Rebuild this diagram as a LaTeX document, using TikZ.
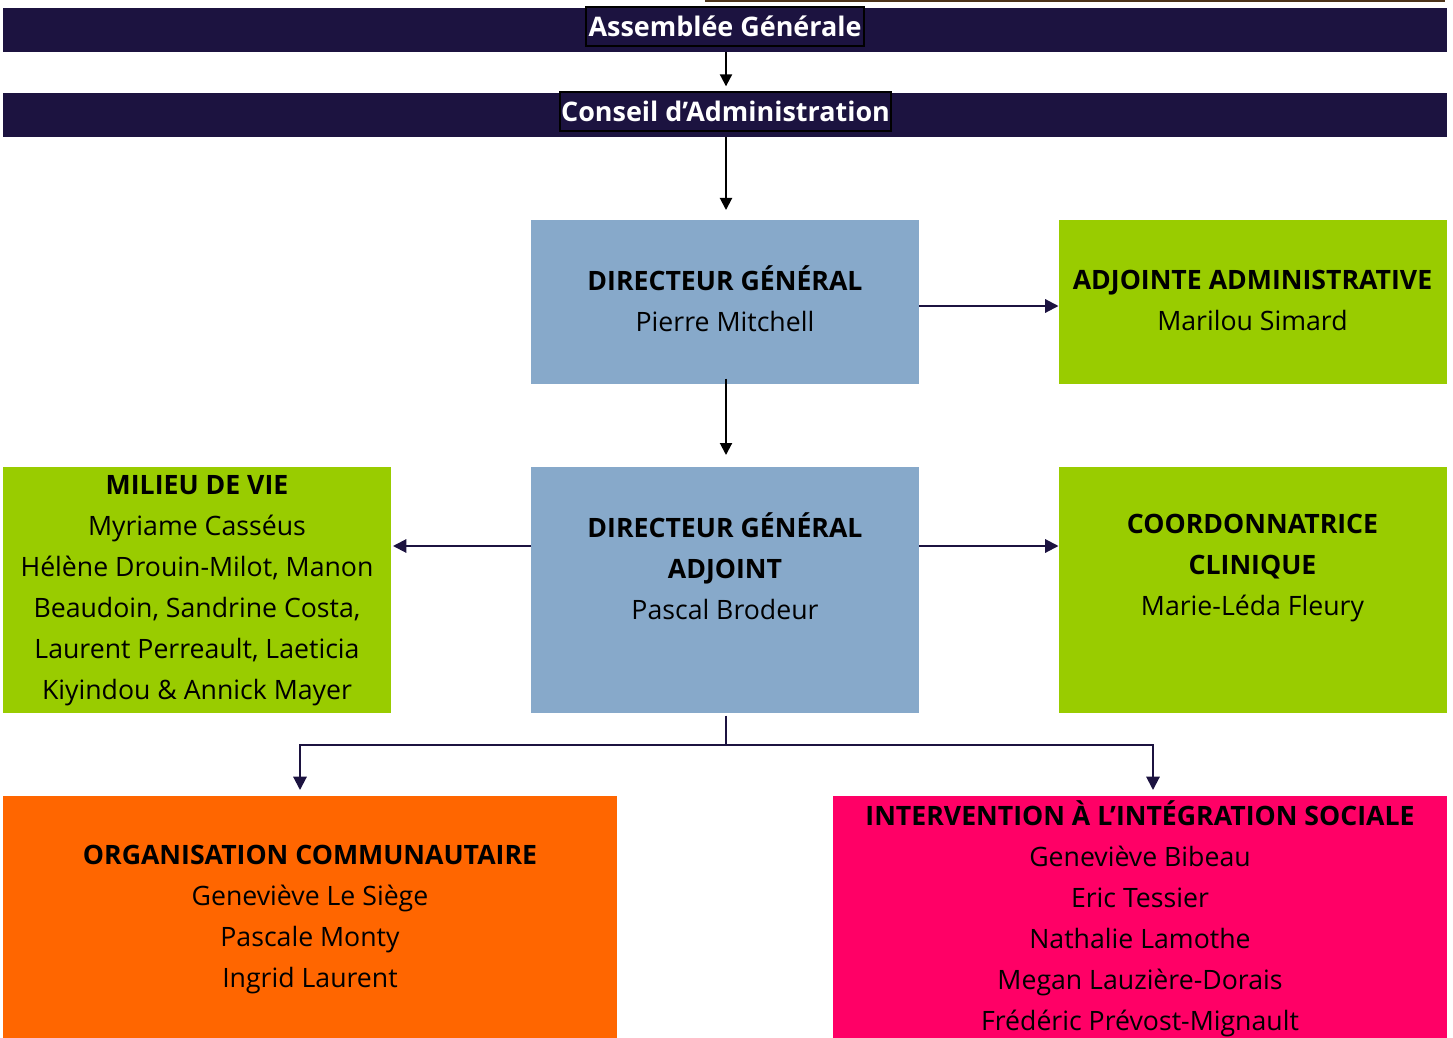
\documentclass[tikz,border=0pt]{standalone}
\usepackage{fontspec}
\setmainfont{Open Sans}
\usepackage{xcolor}
\usetikzlibrary{arrows.meta, positioning, calc}
\definecolor{navy}{HTML}{1C1340}
\definecolor{bluegrey}{HTML}{87A9CA}
\definecolor{lime}{HTML}{99CC00}
\definecolor{orangebox}{HTML}{FF6600}
\definecolor{pinkbox}{HTML}{FF0066}

\begin{document}
\begin{tikzpicture}[x=0.75pt, y=-0.75pt,
    every node/.style={inner sep=0pt, outer sep=0pt},
    bar/.style={fill=navy, minimum width=1083pt, minimum height=33pt},
    bartitle/.style={draw=black, line width=1pt, fill=navy, text=white,
      font=\fontsize{20.2}{24}\selectfont\bfseries, minimum height=29.25pt},
    orgbox/.style={minimum width=291pt, minimum height=#1},
    txt/.style={align=center, font=\fontsize{20}{30.75}\selectfont},
    blackarr/.style={-{Triangle[length=9pt,width=9pt]}, line width=1.5pt, black},
    navyarr/.style={-{Triangle[length=10pt,width=10pt]}, line width=1.5pt, navy}]
  \useasboundingbox (0,0) rectangle (1453,1038);

  \fill[black!60!brown] (705,0) rectangle (1445,2);

  % top bars
  \node[bar] (bar-ag) at (725,30) {};
  \node[bartitle, minimum width=208.5pt] (ag) at (725,26.5) {Assemblée Générale};
  \node[bar] (bar-ca) at (725,115) {};
  \node[bartitle, minimum width=248.25pt] (ca) at (725.5,111.5) {Conseil d’Administration};

  % boxes
  \node[orgbox=123pt, fill=bluegrey] (dg) at (725,302) {};
  \node[orgbox=123pt, fill=lime] (adj) at (1252.5,302) {};
  \node[orgbox=184.5pt, fill=bluegrey] (dga) at (725,590) {};
  \node[orgbox=184.5pt, fill=lime] (mdv) at (197,590) {};
  \node[orgbox=184.5pt, fill=lime] (coord) at (1252.5,590) {};
  \node[orgbox=181.5pt, minimum width=460.5pt, fill=orangebox] (org) at (310,917) {};
  \node[orgbox=181.5pt, minimum width=460.5pt, fill=pinkbox] (int) at (1140,917) {};

  % texts
  \node[txt] (dg-txt) at (725,299) {\textbf{DIRECTEUR GÉNÉRAL}\\Pierre Mitchell};
  \node[txt] (adj-txt) at (1252.5,300) {\textbf{ADJOINTE ADMINISTRATIVE}\\Marilou Simard};
  \node[txt] (dga-txt) at (725,566) {\textbf{DIRECTEUR GÉNÉRAL}\\\textbf{ADJOINT}\\Pascal Brodeur};
  \node[txt] (mdv-txt) at (197,591) {\textbf{MILIEU DE VIE}\\Myriame Casséus\\Hélène Drouin-Milot, Manon\\Beaudoin, Sandrine Costa,\\Laurent Perreault, Laeticia\\Kiyindou \& Annick Mayer};
  \node[txt] (coord-txt) at (1252.5,568) {\textbf{COORDONNATRICE}\\\textbf{CLINIQUE}\\Marie-Léda Fleury};
  \node[txt] (org-txt) at (310,920) {\textbf{ORGANISATION COMMUNAUTAIRE}\\Geneviève Le Siège\\Pascale Monty\\Ingrid Laurent};
  \node[txt] (int-txt) at (1140,918.5) {\textbf{INTERVENTION À L’INTÉGRATION SOCIALE}\\Geneviève Bibeau\\Eric Tessier\\Nathalie Lamothe\\Megan Lauzière-Dorais\\Frédéric Prévost-Mignault};

  % connectors
  \draw[blackarr, shorten >=5pt] ([xshift=0.75pt]bar-ag.south) -- ([xshift=0.75pt]bar-ca.north);
  \draw[blackarr, shorten >=7.5pt] ([xshift=0.75pt]bar-ca.south) -- ([xshift=0.75pt]dg.north);
  \draw[blackarr, shorten >=9pt] ([xshift=0.75pt,yshift=4pt]dg.south) -- ([xshift=0.75pt]dga.north);
  \draw[navyarr] ([yshift=-3pt]dg.east) -- ([yshift=-3pt]adj.west);
  \draw[navyarr, shorten >=1.5pt] ([yshift=33pt]dga.west) -- ([yshift=33pt]mdv.east);
  \draw[navyarr] ([yshift=33pt]dga.east) -- ([yshift=33pt]coord.west);
  \draw[navy, line width=1.5pt] ([xshift=0.75pt,yshift=-2pt]dga.south) -- ++(0,29) coordinate (branch);
  \draw[navyarr, shorten >=4.5pt] (branch) -| ([xshift=-7.5pt]org.north);
  \draw[navyarr, shorten >=4.5pt] (branch) -| ([xshift=9.75pt]int.north);
\end{tikzpicture}
\end{document}
